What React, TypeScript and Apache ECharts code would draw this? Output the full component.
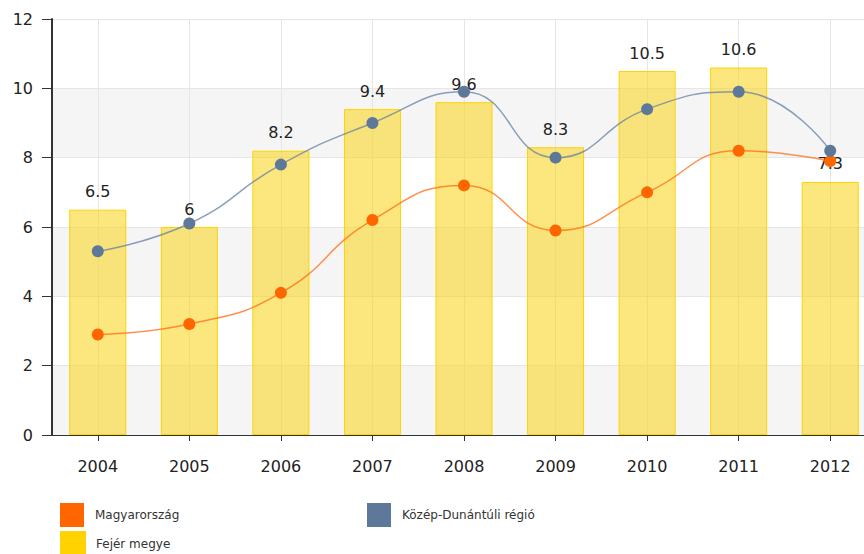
import React, { useEffect, useRef } from "react";
import * as echarts from "echarts";

const categories = ["2004", "2005", "2006", "2007", "2008", "2009", "2010", "2011", "2012"];
const fejerValues = [6.5, 6, 8.2, 9.4, 9.6, 8.3, 10.5, 10.6, 7.3];
const kozepValues = [5.3, 6.1, 7.8, 9.0, 9.9, 8.0, 9.4, 9.9, 8.2];
const magyarValues = [2.9, 3.2, 4.1, 6.2, 7.2, 5.9, 7.0, 8.2, 7.9];
const yTicks = [0, 2, 4, 6, 8, 10, 12];

const FONT = "DejaVu Sans, Verdana, sans-serif";

export default function App() {
  const ref = useRef<HTMLDivElement>(null);
  useEffect(() => {
    if (!ref.current) return;
    const chart = echarts.init(ref.current, undefined, { renderer: "svg" });
    const legendBase = {
      orient: "horizontal" as const,
      itemWidth: 24,
      itemHeight: 24,
      padding: 0,
      icon: "rect",
      textStyle: { fontFamily: FONT, fontSize: 12, color: "#333", padding: [0, 0, 0, 6] },
      selectedMode: false,
    };
    chart.setOption({
      animation: false,
      backgroundColor: "#fff",
      grid: { left: 52, top: 19, bottom: 119, right: 0, containLabel: false },
      legend: [
        { ...legendBase, left: 60, top: 503, data: [{ name: "Magyarország", itemStyle: { color: "#FF6600" } }] },
        { ...legendBase, left: 367, top: 503, data: [{ name: "Közép-Dunántúli régió", itemStyle: { color: "#5E7899" } }] },
        { ...legendBase, left: 60, top: 531, data: [{ name: "Fejér megye", itemStyle: { color: "#FFD200" } }] },
      ],
      xAxis: {
        type: "category",
        data: categories,
        boundaryGap: true,
        axisLine: { show: true, lineStyle: { color: "#333", width: 1 } },
        axisTick: { show: true, alignWithLabel: true, length: 6, lineStyle: { color: "#333" } },
        axisLabel: { fontFamily: FONT, fontSize: 16, color: "#222", margin: 23 },
        splitLine: { show: true, alignWithLabel: true, lineStyle: { color: "#e6e6e6" } },
      },
      yAxis: {
        type: "value",
        min: yTicks[0],
        max: yTicks[yTicks.length - 1],
        interval: 2,
        axisLine: { show: true, lineStyle: { color: "#333", width: 2 } },
        axisTick: { show: true, length: 10, lineStyle: { color: "#333" } },
        axisLabel: { fontFamily: FONT, fontSize: 16, color: "#222", margin: 19 },
        splitLine: { show: true, lineStyle: { color: "#e6e6e6" } },
        splitArea: { show: true, areaStyle: { color: ["#f5f5f5", "#ffffff"] } },
      },
      series: [
        {
          name: "Fejér megye",
          type: "bar",
          data: fejerValues,
          barWidth: 57,
          itemStyle: { color: "rgba(250, 212, 20, 0.55)", borderColor: "#FFD200", borderWidth: 1 },
          label: {
            show: true,
            position: "top",
            distance: 10,
            fontFamily: FONT,
            fontSize: 16,
            color: "#222",
          },
          z: 2,
        },
        {
          name: "Magyarország",
          type: "line",
          data: magyarValues,
          smooth: 0.5,
          symbol: "circle",
          symbolSize: 12,
          itemStyle: { color: "#FF6600" },
          lineStyle: { color: "rgba(255, 110, 20, 0.75)", width: 1.5 },
          z: 3,
        },
        {
          name: "Közép-Dunántúli régió",
          type: "line",
          data: kozepValues,
          smooth: 0.5,
          symbol: "circle",
          symbolSize: 12,
          itemStyle: { color: "#5E7899" },
          lineStyle: { color: "rgba(100, 128, 160, 0.75)", width: 1.5 },
          z: 3,
        },
      ],
    });
    return () => chart.dispose();
  }, []);
  return (
    <div style={{ position: "fixed", left: 0, top: 0, width: 864, height: 554, overflow: "hidden" }}>
      <div ref={ref} style={{ width: 876, height: 554 }} />
    </div>
  );
}
